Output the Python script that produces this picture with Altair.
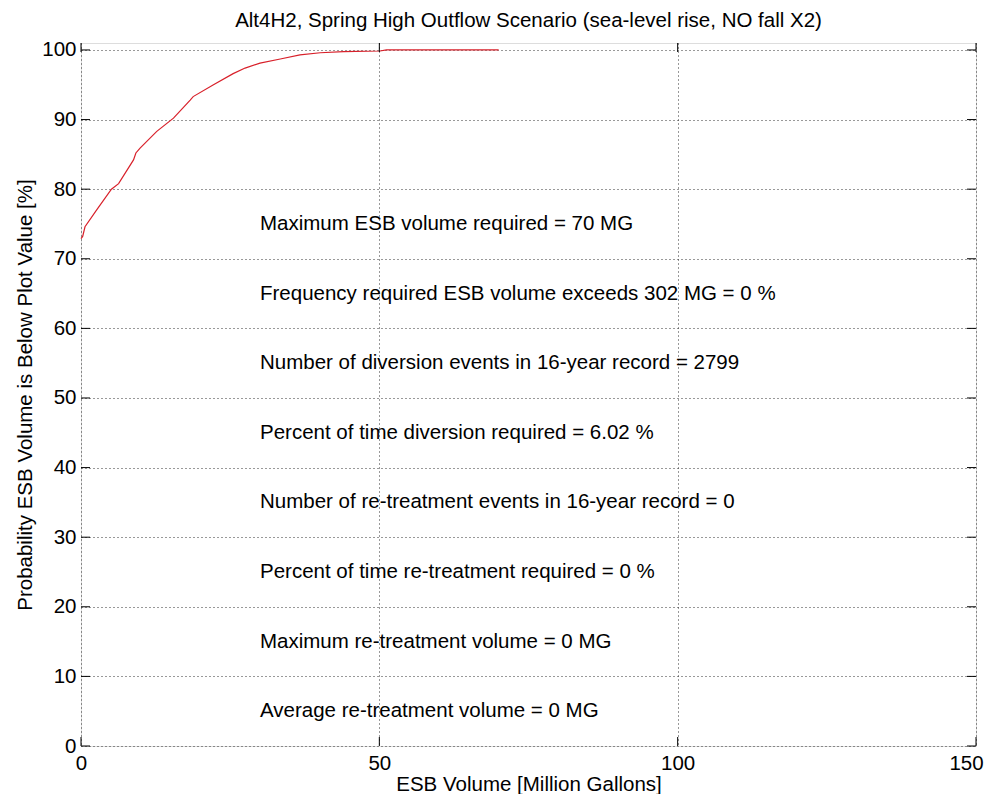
import altair as alt
import pandas as pd

# ---- data ----
x_vals = [0, 0.28, 0.67, 2.6, 5.1, 6.3, 8.8, 9.2, 9.9, 12.7, 15.5, 18.3, 18.8,
          22.2, 25.5, 27.5, 30.0, 33.4, 36.7, 40.1, 44.0, 50.1, 51.2, 70]
p_vals = [72.9, 73.2, 74.6, 77.0, 80.0, 80.8, 84.2, 85.2, 85.9, 88.3, 90.2, 92.8, 93.3,
          95.0, 96.6, 97.4, 98.1, 98.7, 99.3, 99.6, 99.75, 99.85, 100, 100]

notes = [
    "Maximum ESB volume required = 70 MG",
    "Frequency required ESB volume exceeds 302 MG = 0 %",
    "Number of diversion events in 16-year record = 2799",
    "Percent of time diversion required = 6.02 %",
    "Number of re-treatment events in 16-year record = 0",
    "Percent of time re-treatment required = 0 %",
    "Maximum re-treatment volume = 0 MG",
    "Average re-treatment volume = 0 MG",
]
note_x = [30] * len(notes)
note_y = [75, 65, 55, 45, 35, 25, 15, 5]

x_ticks = [0, 50, 100, 150]
y_ticks = [0, 10, 20, 30, 40, 50, 60, 70, 80, 90, 100]

W, H = 895, 703
FONT = "Liberation Sans"
FS = 20.5
TICK = 9

curve = pd.DataFrame({"x": x_vals, "p": p_vals})
ann = pd.DataFrame({"x": note_x, "y": note_y, "t": notes})
xt = pd.DataFrame({"v": x_ticks})
yt = pd.DataFrame({"v": y_ticks})

xs = alt.Scale(domain=[0, 150], nice=False, zero=False)
ys = alt.Scale(domain=[0, 101], nice=False, zero=False)

xaxis = alt.Axis(values=x_ticks, title="ESB Volume [Million Gallons]", grid=True,
                 gridDash=[1, 3], gridColor="#333333", tickSize=0, domain=False,
                 labelFlush=False,
                 labelOffset={"condition": {"test": "datum.value == 150", "value": -10},
                              "value": 0},
                 labelFont=FONT, labelFontSize=FS, labelColor="black", labelPadding=7,
                 titleFont=FONT, titleFontSize=FS, titleFontWeight="normal",
                 titleColor="black", titlePadding=1)
yaxis = alt.Axis(values=y_ticks, title="Probability ESB Volume is Below Plot Value [%]",
                 grid=True, gridDash=[1, 3], gridColor="#333333", tickSize=0, domain=False,
                 labelFlush=False,
                 labelFont=FONT, labelFontSize=FS, labelColor="black", labelPadding=5,
                 titleFont=FONT, titleFontSize=FS, titleFontWeight="normal",
                 titleColor="black", titlePadding=6)

line = alt.Chart(curve).mark_line(color="#d8202a", strokeWidth=1.2).encode(
    x=alt.X("x:Q", scale=xs, axis=xaxis),
    y=alt.Y("p:Q", scale=ys, axis=yaxis),
)

text = alt.Chart(ann).mark_text(align="left", baseline="middle", font=FONT,
                                fontSize=FS, color="black").encode(
    x=alt.X("x:Q", scale=xs), y=alt.Y("y:Q", scale=ys), text="t:N")

xt_bot = alt.Chart(xt).mark_rule(color="black").encode(
    x=alt.X("v:Q", scale=xs), y=alt.value(H), y2=alt.value(H - TICK))
xt_top = alt.Chart(xt).mark_rule(color="black").encode(
    x=alt.X("v:Q", scale=xs), y=alt.value(0), y2=alt.value(TICK))
yt_left = alt.Chart(yt).mark_rule(color="black").encode(
    y=alt.Y("v:Q", scale=ys), x=alt.value(0), x2=alt.value(TICK))
yt_right = alt.Chart(yt).mark_rule(color="black").encode(
    y=alt.Y("v:Q", scale=ys), x=alt.value(W), x2=alt.value(W - TICK))

chart = alt.layer(line, text, xt_bot, xt_top, yt_left, yt_right).properties(
    width=W, height=H,
    title=alt.TitleParams("Alt4H2, Spring High Outflow Scenario (sea-level rise, NO fall X2)",
                          font=FONT, fontSize=FS, fontWeight="normal", color="black",
                          anchor="middle", offset=8),
    autosize=alt.AutoSizeParams(type="none"),
    padding={"left": 73, "top": 35, "right": 11, "bottom": 48},
).configure_view(stroke="black", strokeWidth=1).configure(background="white")

chart.save("out.html", embed_options={"renderer": "svg", "actions": False})
